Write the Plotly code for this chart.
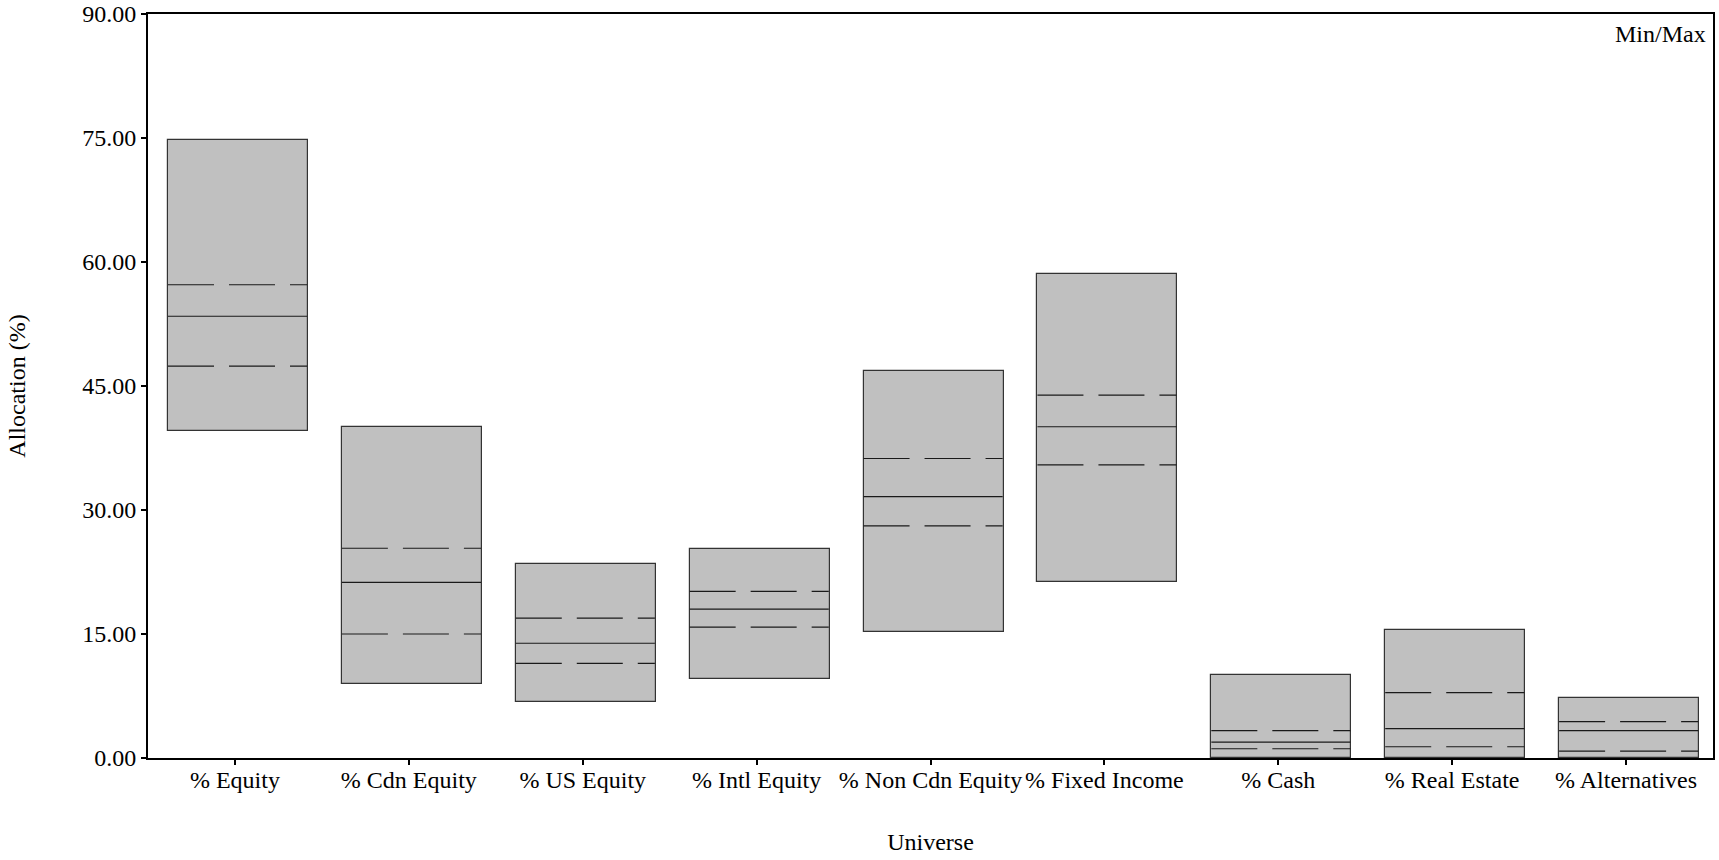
import plotly.graph_objects as go

# Asset classes and their allocation ranges across the universe (%)
categories = ["% Equity", "% Cdn Equity", "% US Equity", "% Intl Equity",
              "% Non Cdn Equity", "% Fixed Income", "% Cash", "% Real Estate",
              "% Alternatives"]
min_vals = [39.55, 8.97, 6.83, 9.58, 15.25, 21.24, 0.0, 0.0, 0.0]
max_vals = [74.70, 40.07, 23.43, 25.33, 46.84, 58.59, 10.10, 15.50, 7.31]
q3_vals = [57.25, 25.37, 16.91, 20.15, 36.23, 43.89, 3.30, 7.92, 4.40]
median_vals = [53.44, 21.24, 13.88, 18.00, 31.62, 40.07, 1.92, 3.55, 3.30]
q1_vals = [47.41, 15.00, 11.45, 15.82, 28.09, 35.46, 1.12, 1.36, 0.83]
y_ticks = [0, 15, 30, 45, 60, 75, 90]

FONT = "Liberation Serif, Times New Roman, serif"
FS = 24
idx = list(range(len(categories)))

BOX_LEFT = -0.385
BOX_WIDTH = 0.805
LINE_RIGHT = 0.415

fig = go.Figure()

# Min/Max range boxes
fig.add_trace(go.Bar(
    x=idx,
    y=[hi - lo for lo, hi in zip(min_vals, max_vals)],
    base=min_vals,
    width=BOX_WIDTH,
    offset=BOX_LEFT,
    marker=dict(color="#c0c0c0", line=dict(color="#333333", width=1.2)),
    showlegend=False,
    hoverinfo="skip",
))


def segments(values):
    xs, ys = [], []
    for i, v in zip(idx, values):
        xs += [i + BOX_LEFT, i + LINE_RIGHT, None]
        ys += [v, v, None]
    return xs, ys


for vals, dash in [(q3_vals, "46px,15px"), (median_vals, "solid"),
                   (q1_vals, "46px,15px")]:
    xs, ys = segments(vals)
    fig.add_trace(go.Scatter(
        x=xs, y=ys, mode="lines",
        line=dict(color="#1a1a1a", width=1.2, dash=dash),
        showlegend=False, hoverinfo="skip",
    ))

fig.add_annotation(
    text="Min/Max", xref="paper", yref="paper", x=0.997, y=0.993,
    xanchor="right", yanchor="top", showarrow=False,
    font=dict(family=FONT, size=FS, color="#000"),
)

fig.update_layout(
    width=1719, height=860,
    margin=dict(l=148, r=6, t=14, b=102, autoexpand=False),
    paper_bgcolor="white", plot_bgcolor="white",
    font=dict(family=FONT, size=FS, color="#000"),
    bargap=0,
    xaxis=dict(
        range=[-0.5, len(categories) - 0.5],
        tickmode="array", tickvals=idx, ticktext=categories,
        showline=True, linecolor="#000", linewidth=2, mirror=True,
        ticks="outside", ticklen=5, tickwidth=2, tickcolor="#000",
        showgrid=False, zeroline=False, automargin=False,
        ticklabelstandoff=-6,
        title=dict(text="Universe", standoff=41,
                   font=dict(family=FONT, size=FS)),
        tickfont=dict(family=FONT, size=FS),
    ),
    yaxis=dict(
        range=[0, 90],
        tickmode="array", tickvals=y_ticks,
        ticktext=[f"{v:.2f}" for v in y_ticks],
        showline=True, linecolor="#000", linewidth=2, mirror=True,
        ticks="outside", ticklen=5, tickwidth=2, tickcolor="#000",
        showgrid=False, zeroline=False, automargin=False,
        ticklabeloverflow="allow",
        title=dict(text="Allocation (%)", standoff=50,
                   font=dict(family=FONT, size=FS)),
        tickfont=dict(family=FONT, size=FS),
    ),
)

fig.write_html("out.html")
